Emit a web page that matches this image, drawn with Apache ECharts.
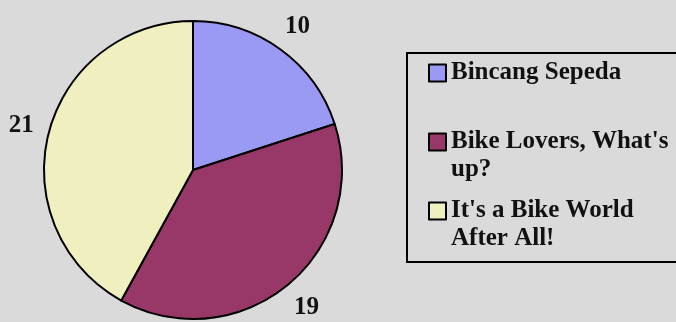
<!DOCTYPE html>
<html><head><meta charset="utf-8">
<script src="https://cdn.jsdelivr.net/npm/echarts@6/dist/echarts.min.js"></script>
<style>html,body{margin:0;padding:0;background:#dadada}#c{width:676px;height:322px}</style>
</head><body><div id="c"></div>
<script>
const categories = ['Bincang Sepeda', "Bike Lovers, What's up?", "It's a Bike World After All!"];
const values = [10, 19, 21];
const legendLabels = ['Bincang Sepeda', "Bike Lovers, What's\nup?", "It's a Bike World\nAfter All!"];
const colors = ['#9a9af4', '#983868', '#efefc0'];

const chart = echarts.init(document.getElementById('c'), null, {renderer: 'canvas'});
const CX = 193, CY = 170, R = 149;
const total = values.reduce((a, b) => a + b, 0);
const mids = [];
let acc = 0;
values.forEach(v => { mids.push((acc + v / 2) / total * 2 * Math.PI); acc += v; });

const option = {
  backgroundColor: '#dadada',
  animation: false,
  color: colors,
  legend: {
    orient: 'vertical', left: 428, top: 31, padding: 0, itemGap: -15,
    itemWidth: 17, itemHeight: 17, itemTextGap: 8, icon: 'rect',
    data: categories,
    formatter: name => {
      const t = legendLabels[categories.indexOf(name)];
      return t.indexOf('\n') < 0 ? '\n' + t + '\n' : '\n' + t;
    },
    textStyle: {fontFamily: 'Liberation Serif', fontWeight: 'bold', fontSize: 25, lineHeight: 28, color: '#111'},
    selectedMode: false
  },
  graphic: [{type: 'rect', silent: true, shape: {x: 407, y: 53, width: 300, height: 209},
    style: {fill: 'none', stroke: '#000', lineWidth: 2}}],
  series: [{
    type: 'pie', center: [CX, CY], radius: R, startAngle: 90, clockwise: true,
    data: categories.map((n, i) => ({name: n, value: values[i]})),
    itemStyle: {borderColor: '#000', borderWidth: 2},
    label: {show: true, position: 'inside', formatter: '{c}', fontFamily: 'Liberation Serif',
      fontWeight: 'bold', fontSize: 25, color: '#111'},
    labelLine: {show: false},
    labelLayout: p => {
      const a = mids[p.dataIndex];
      const s = Math.sin(a), c = Math.cos(a);
      const w = p.labelRect.width;
      const d = R + 14 + Math.abs(s) * w / 2 + Math.abs(c) * 9;
      return {x: CX + d * s, y: CY - d * c, align: 'center', verticalAlign: 'middle'};
    },
    emphasis: {disabled: true}
  }]
};
chart.setOption(option);
</script></body></html>
